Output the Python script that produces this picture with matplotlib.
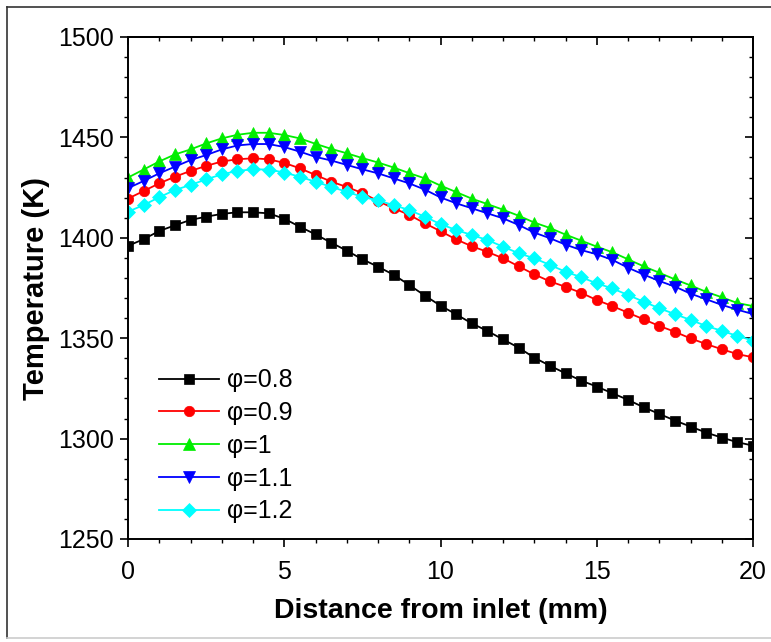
import matplotlib
matplotlib.use("Agg")
import matplotlib.pyplot as plt
from matplotlib.ticker import MultipleLocator
from matplotlib.lines import Line2D
import numpy as np

plt.rcParams['font.family'] = ['Liberation Sans', 'DejaVu Sans']

# Axial positions (mm) and temperature profiles (K) for each equivalence ratio
distance = np.arange(0, 20.01, 0.5)

temp_phi_08 = [1396.0, 1399.3, 1403.4, 1406.2, 1408.9, 1410.5, 1411.9, 1412.7, 1412.7, 1412.2,
               1409.5, 1405.5, 1401.7, 1397.6, 1393.6, 1389.3, 1385.6, 1381.6, 1376.5, 1371.2,
               1366.2, 1361.9, 1357.4, 1353.6, 1349.4, 1345.3, 1340.3, 1336.3, 1332.5, 1328.9,
               1325.9, 1322.6, 1319.3, 1315.6, 1312.3, 1309.0, 1306.0, 1303.0, 1300.5, 1298.2,
               1296.5]

temp_phi_09 = [1419.5, 1423.3, 1427.1, 1430.4, 1433.3, 1435.8, 1438.0, 1439.1, 1439.6, 1439.1,
               1437.3, 1434.6, 1431.3, 1428.0, 1425.3, 1422.3, 1418.3, 1414.7, 1411.4, 1407.2,
               1403.3, 1399.2, 1395.8, 1393.0, 1389.8, 1385.8, 1381.8, 1378.3, 1375.6, 1372.6,
               1369.0, 1366.0, 1362.7, 1359.4, 1356.1, 1353.2, 1349.9, 1347.1, 1344.5, 1342.1,
               1340.5]

temp_phi_10 = [1430.0, 1434.0, 1438.0, 1441.5, 1444.0, 1447.0, 1449.5, 1451.3, 1452.3, 1452.3,
               1451.2, 1449.5, 1446.8, 1444.3, 1442.1, 1439.7, 1437.5, 1435.0, 1432.2, 1429.6,
               1426.0, 1422.8, 1419.5, 1416.8, 1414.0, 1411.0, 1407.6, 1404.9, 1401.6, 1398.6,
               1395.6, 1392.8, 1389.3, 1385.8, 1382.6, 1379.3, 1376.3, 1373.1, 1370.4, 1367.5,
               1366.0]

temp_phi_11 = [1424.7, 1428.3, 1432.1, 1435.4, 1438.7, 1441.2, 1444.0, 1446.0, 1446.7, 1446.7,
               1445.2, 1442.9, 1440.3, 1438.5, 1436.3, 1434.1, 1432.1, 1429.6, 1427.1, 1424.0,
               1420.1, 1417.2, 1414.7, 1412.2, 1409.7, 1406.4, 1402.6, 1399.8, 1396.6, 1393.9,
               1391.8, 1389.0, 1385.1, 1381.7, 1378.5, 1375.7, 1372.2, 1369.4, 1366.6, 1364.2,
               1362.0]

temp_phi_12 = [1413.0, 1416.3, 1420.2, 1423.8, 1426.3, 1429.1, 1431.6, 1433.3, 1434.1, 1434.0,
               1432.5, 1430.4, 1427.9, 1425.4, 1422.9, 1420.4, 1418.6, 1416.3, 1413.8, 1410.5,
               1406.8, 1403.9, 1401.4, 1398.9, 1395.6, 1392.3, 1389.8, 1386.5, 1383.1, 1380.4,
               1377.3, 1374.8, 1371.5, 1368.2, 1364.9, 1362.0, 1359.1, 1356.1, 1353.7, 1351.1,
               1348.8]

labels = ['φ=0.8', 'φ=0.9', 'φ=1', 'φ=1.1', 'φ=1.2']
profiles = [temp_phi_08, temp_phi_09, temp_phi_10, temp_phi_11, temp_phi_12]
colors = ['#000000', '#ff0000', '#00ee00', '#0000ff', '#00ffff']
markers = ['s', 'o', '^', 'v', 'D']
msizes = [7.5, 7.5, 9.0, 9.0, 7.0]

fig = plt.figure(figsize=(7.71, 6.42), dpi=100)
ax = fig.add_axes([128 / 771, 1 - 539 / 642, 625 / 771, 502 / 642])

for y, c, m, ms, lab in zip(profiles, colors, markers, msizes, labels):
    ax.plot(distance, y, color=c, marker=m, markersize=ms, linewidth=1.3,
            markeredgewidth=0.5, markeredgecolor=c, label=lab)

ax.set_xlim(0, 20)
ax.set_ylim(1250, 1500)
ax.xaxis.set_major_locator(MultipleLocator(5))
ax.xaxis.set_minor_locator(MultipleLocator(1))
ax.yaxis.set_major_locator(MultipleLocator(50))
ax.yaxis.set_minor_locator(MultipleLocator(10))

ax.tick_params(which='major', direction='out', length=6, width=1.2, labelsize=18, pad=4)
ax.tick_params(axis='x', which='major', pad=9)
ax.tick_params(which='minor', direction='out', length=3, width=1.0)
for sp in ax.spines.values():
    sp.set_linewidth(1.4)

# inward ticks on the top and right edges
top = ax.secondary_xaxis('top')
top.xaxis.set_major_locator(MultipleLocator(5))
top.xaxis.set_minor_locator(MultipleLocator(1))
top.tick_params(which='major', direction='in', length=6, width=1.2, labeltop=False)
top.tick_params(which='minor', direction='in', length=3, width=1.0)
right = ax.secondary_yaxis('right')
right.yaxis.set_major_locator(MultipleLocator(50))
right.yaxis.set_minor_locator(MultipleLocator(10))
right.tick_params(which='major', direction='in', length=6, width=1.2, labelright=False)
right.tick_params(which='minor', direction='in', length=3, width=1.0)
top.spines['top'].set_linewidth(1.4)
right.spines['right'].set_linewidth(1.4)

ax.set_xlabel('Distance from inlet (mm)', fontsize=20.5, fontweight='bold', labelpad=10)
ax.set_ylabel('Temperature (K)', fontsize=21, fontweight='bold', labelpad=6)

ax.legend(loc='upper left', bbox_to_anchor=(0.05, 0.34), frameon=False,
          fontsize=18, handlelength=2.4, handletextpad=0.3, labelspacing=0.35,
          borderpad=0, borderaxespad=0)

# outer frame of the figure
fig.add_artist(Line2D([7 / 771, 1], [1 - 7 / 642, 1 - 7 / 642], color='#333333', linewidth=1.2,
                      transform=fig.transFigure))
fig.add_artist(Line2D([7 / 771, 7 / 771], [1 - 7 / 642, 1 - 638 / 642], color='#333333',
                      linewidth=1.2, transform=fig.transFigure))
fig.add_artist(Line2D([7 / 771, 1], [1 - 638 / 642, 1 - 638 / 642], color='#cccccc',
                      linewidth=1.2, transform=fig.transFigure))

fig.savefig('out.png', dpi=100)
